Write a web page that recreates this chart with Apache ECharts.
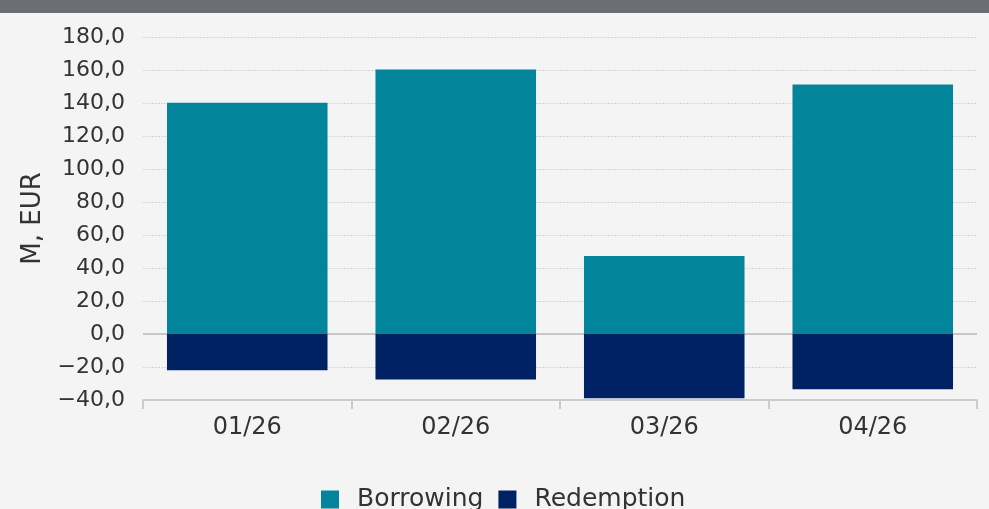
<!DOCTYPE html>
<html>
<head>
<meta charset="utf-8">
<script src="https://cdn.jsdelivr.net/npm/echarts@6/dist/echarts.min.js"></script>
<style>
html,body{margin:0;padding:0;background:#f4f4f4;}
#topbar{position:absolute;left:0;top:0;width:989px;height:13px;background:#6d6e73;}
#chart{position:absolute;left:0;top:0;width:989px;height:509px;}
</style>
</head>
<body>
<div id="chart"></div>
<div id="topbar"></div>
<script>
const categories = ['01/26', '02/26', '03/26', '04/26'];
const borrowing = [140.2, 160.3, 47.3, 151.2];
const redemption = [-22.0, -27.6, -39.0, -33.5];
const yTicks = { min: -40, max: 180, interval: 20 };
const seriesNames = ['Borrowing', 'Redemption'];
const axisTitle = 'M, EUR';

const FONT = 'DejaVu Sans';
const chart = echarts.init(document.getElementById('chart'), null, { renderer: 'canvas' });
chart.setOption({
  backgroundColor: '#f4f4f4',
  animation: false,
  textStyle: { fontFamily: FONT },
  grid: { left: 143, right: 12, top: 37, bottom: 109, containLabel: false },
  legend: {
    data: seriesNames,
    top: 487,
    left: 321,
    padding: 0,
    itemWidth: 18,
    itemHeight: 18,
    itemGap: 15,
    icon: 'rect',
    textStyle: { fontFamily: FONT, fontSize: 25, color: '#333333', padding: [0, 0, 0, 13] }
  },
  xAxis: {
    type: 'category',
    data: categories,
    axisLine: { onZero: false, lineStyle: { color: '#cccccc', width: 2 } },
    axisTick: { show: true, length: 9, lineStyle: { color: '#cccccc', width: 2 } },
    axisLabel: { fontFamily: FONT, fontSize: 24, color: '#333333', margin: 16 }
  },
  yAxis: {
    type: 'value',
    min: yTicks.min,
    max: yTicks.max,
    interval: yTicks.interval,
    name: axisTitle,
    nameLocation: 'middle',
    nameRotate: 90,
    nameGap: 93,
    nameTextStyle: { fontFamily: FONT, fontSize: 26, color: '#333333' },
    axisLine: { show: false },
    axisTick: { show: false },
    axisLabel: {
      fontFamily: FONT, fontSize: 22, color: '#333333', margin: 18,
      formatter: v => (v < 0 ? '\u2212' : '') + Math.abs(v).toFixed(1).replace('.', ',')
    },
    splitLine: { show: true, lineStyle: { color: '#d6d6d6', type: [2, 1], width: 1 } }
  },
  series: [
    {
      name: 'zero', type: 'line', data: [], z: 1, silent: true,
      markLine: {
        z: 1,
        silent: true, symbol: 'none', label: { show: false },
        lineStyle: { color: '#c8c8c8', type: 'solid', width: 2 },
        data: [{ yAxis: 0 }]
      }
    },
    {
      name: seriesNames[0], type: 'bar', stack: 'total', data: borrowing,
      barCategoryGap: '23%',
      itemStyle: { color: '#02849a' },
      z: 3
    },
    {
      name: seriesNames[1], type: 'bar', stack: 'total', data: redemption,
      barCategoryGap: '23%',
      itemStyle: { color: '#002164' },
      z: 3
    }
  ]
});
</script>
</body>
</html>
